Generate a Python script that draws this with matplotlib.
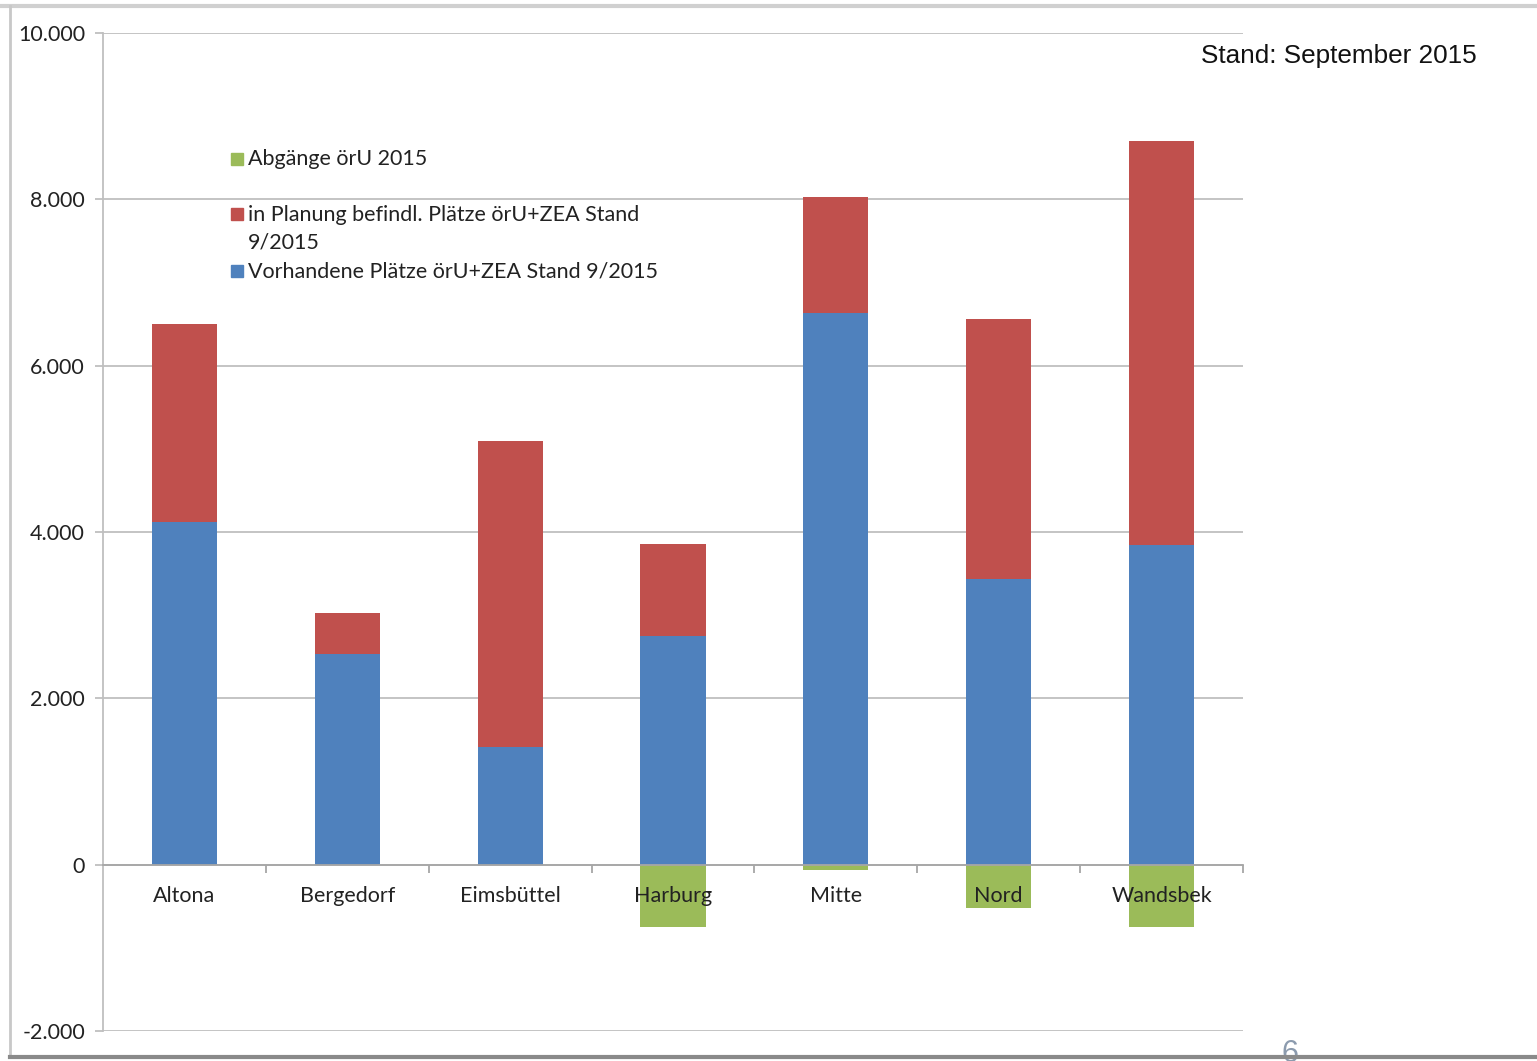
import matplotlib.pyplot as plt
from matplotlib.patches import Rectangle
from matplotlib.lines import Line2D
from matplotlib.ticker import FuncFormatter, FixedLocator
import numpy as np

bezirke = ['Altona', 'Bergedorf', 'Eimsbüttel', 'Harburg', 'Mitte', 'Nord', 'Wandsbek']
vorhanden = [4115, 2530, 1420, 2755, 6630, 3440, 3840]
in_planung = [2385, 500, 3680, 1095, 1395, 3120, 4860]
abgaenge = [0, 0, 0, -745, -60, -520, -745]

legend_labels = ['Abgänge örU 2015',
                 'in Planung befindl. Plätze örU+ZEA Stand\n9/2015',
                 'Vorhandene Plätze örU+ZEA Stand 9/2015']

blue = '#4F81BD'
red = '#C0504D'
green = '#9BBB59'
grey = '#BFBFBF'

plt.rcParams['font.family'] = ['Lato', 'DejaVu Sans']

fig = plt.figure(figsize=(15.37, 10.61), dpi=100)
ax = fig.add_axes([103/1537, 1 - 1031/1061, 1140/1537, 998/1061])

x = np.arange(len(bezirke))
w = 0.4
ax.bar(x, vorhanden, w, color=blue, zorder=1)
ax.bar(x, in_planung, w, bottom=vorhanden, color=red, zorder=1)
ax.bar(x, abgaenge, w, color=green, zorder=1)

ax.set_xlim(-0.5, len(bezirke) - 0.5)
ax.set_ylim(-2000, 10000)
ax.set_yticks(np.arange(-2000, 10001, 2000))
ax.yaxis.set_major_formatter(FuncFormatter(lambda v, p: f'{int(v):,}'.replace(',', '.')))
ax.set_axisbelow(True)
ax.grid(axis='y', color=grey, linewidth=1.3)

# category axis crossing at 0
ax.spines['bottom'].set_position(('data', 0))
ax.spines['bottom'].set_color('#A6A6A6')
ax.spines['bottom'].set_linewidth(1.3)
ax.spines['left'].set_color(grey)
ax.spines['left'].set_linewidth(1.3)
ax.spines['top'].set_visible(False)
ax.spines['right'].set_visible(False)

ax.set_xticks(x)
ax.set_xticklabels(bezirke, fontsize=15.5, color='#222222')
ax.tick_params(axis='x', which='major', length=0, pad=15)
ax.xaxis.set_minor_locator(FixedLocator(np.arange(0.5, len(bezirke), 1)))
ax.tick_params(axis='x', which='minor', length=6, color='#A6A6A6', width=1.3)
ax.tick_params(axis='y', length=6, color=grey, width=1.3, labelsize=15.5, labelcolor='#222222', pad=7)
ax.xaxis.set_zorder(3)

fig.text(1201/1537, 1 - 56/1061, 'Stand: September 2015',
         fontsize=18.8, family='Liberation Sans', color='#111111', ha='left', va='center')

# legend, drawn by hand like the Excel one
leg_y = [159, 214, 271]
leg_colors = [green, red, blue]
for yy, col, lab in zip(leg_y, leg_colors, legend_labels):
    fig.patches.append(Rectangle((231/1537, 1 - (yy + 6)/1061), 12/1537, 12/1061,
                                 transform=fig.transFigure, color=col))
    ty = yy + 14.5 if '\n' in lab else yy
    fig.text(248/1537, 1 - ty/1061, lab, fontsize=15.5, color='#222222',
             va='center', linespacing=1.45)

# screenshot frame
fig.lines.append(Line2D([0, 1], [1 - 6/1061] * 2, transform=fig.transFigure, color='#D0D0D0', linewidth=3))
fig.lines.append(Line2D([10/1537] * 2, [1 - 6/1061, 1 - 1057/1061], transform=fig.transFigure, color='#C8C8C8', linewidth=2))
fig.text(1290/1537, 1 - 1039/1061, '6', fontsize=22, family='Liberation Sans', color='#8C9BAE',
         ha='center', va='top', zorder=1)
fig.lines.append(Line2D([10/1537, 1], [1 - 1057/1061] * 2, transform=fig.transFigure, color='#8A8A8A', linewidth=3, zorder=5))

fig.savefig('out.png', dpi=100)
